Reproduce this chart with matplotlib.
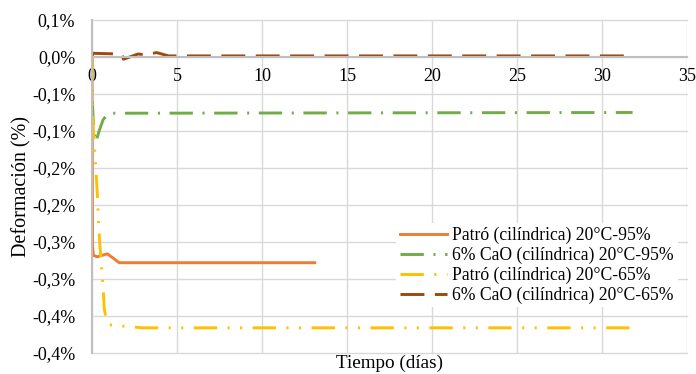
import matplotlib
matplotlib.use("Agg")
import matplotlib.pyplot as plt

# Deformation vs time (days), values in %
patro_95_t = [0, 0.03, 0.08, 0.3, 0.6, 0.9, 1.2, 1.6, 13.1]
patro_95_v = [0, -0.255, -0.268, -0.270, -0.268, -0.266, -0.271, -0.278, -0.278]

cao_95_t = [0, 0.02, 0.1, 0.22, 0.45, 0.65, 0.95, 31.8]
cao_95_v = [0, -0.06, -0.10, -0.115, -0.098, -0.085, -0.076, -0.075]

patro_65_t = [0, 0.04, 0.08, 0.2, 0.3, 0.38, 0.45, 0.55, 0.65, 0.72, 0.85, 1.05, 2.0, 3.0, 31.8]
patro_65_v = [0, -0.05, -0.10, -0.14, -0.18, -0.22, -0.25, -0.28, -0.31, -0.34, -0.355, -0.362, -0.364, -0.366, -0.366]

cao_65_t = [0, 0.05, 1.75, 1.85, 2.7, 3.2, 3.8, 4.5, 31.4]
cao_65_v = [0, 0.005, 0.004, -0.003, 0.004, 0.003, 0.006, 0.0015, 0.0015]

labels = [
    "Patró (cilíndrica) 20°C-95%",
    "6% CaO (cilíndrica) 20°C-95%",
    "Patró (cilíndrica) 20°C-65%",
    "6% CaO (cilíndrica) 20°C-65%",
]

x_ticks = [0, 5, 10, 15, 20, 25, 30, 35]
y_ticks = [0.05, 0.0, -0.05, -0.10, -0.15, -0.20, -0.25, -0.30, -0.35, -0.40]
y_tick_labels = ["0,1%", "0,0%", "-0,1%", "-0,1%", "-0,2%", "-0,2%", "-0,3%", "-0,3%", "-0,4%", "-0,4%"]

plt.rcParams["font.family"] = ["Liberation Serif", "DejaVu Serif"]

fig = plt.figure(figsize=(6.96, 3.74), dpi=100)
ax = fig.add_axes([92 / 696, 1 - 353 / 374, 595 / 696, 333 / 374])

lw = 2.1
ax.plot(patro_95_t, patro_95_v, color="#ED7D31", lw=lw, label=labels[0])
ax.plot(cao_95_t, cao_95_v, color="#70AD47", lw=lw, dashes=(8, 3.3, 0.7, 3.3), label=labels[1])
ax.plot(patro_65_t, patro_65_v, color="#FFC000", lw=lw,
        dashes=(8, 3.6, 0.7, 3.6, 0.7, 3.6), label=labels[2])
ax.plot(cao_65_t, cao_65_v, color="#9E480E", lw=lw, dashes=(8.2, 3.6), label=labels[3])

ax.set_xlim(0, 35)
ax.set_ylim(-0.40, 0.05)
ax.set_xticks(x_ticks)
ax.set_yticks(y_ticks)
ax.set_yticklabels(y_tick_labels)

ax.grid(True, color="#d9d9d9", lw=1.0)
ax.set_axisbelow(True)
for gl in ax.get_xgridlines() + ax.get_ygridlines():
    gl.set_clip_on(False)

ax.spines["top"].set_visible(False)
ax.spines["right"].set_visible(False)
ax.spines["bottom"].set_position(("data", 0))
for s in ("bottom", "left"):
    ax.spines[s].set_color("#bfbfbf")
    ax.spines[s].set_linewidth(1.5)

ax.tick_params(axis="both", length=0, labelsize=13)
ax.tick_params(axis="x", pad=8)
ax.tick_params(axis="y", pad=12)

ax.set_xlabel("Tiempo (días)", fontsize=13.8)
ax.xaxis.set_label_coords(0.5, -0.005)
ax.set_ylabel("Deformación (%)", fontsize=14.5)
ax.yaxis.set_label_coords(-0.1025, 0.5)

leg = ax.legend(loc="upper left", bbox_to_anchor=(0.511, 0.39), fontsize=12.7,
                frameon=True, borderaxespad=0, borderpad=0.2, labelspacing=0.15,
                handlelength=2.7, handletextpad=0.3)
leg.get_frame().set_edgecolor("none")
leg.get_frame().set_facecolor("white")
leg.get_frame().set_alpha(1)

fig.savefig("out.png", dpi=100)
